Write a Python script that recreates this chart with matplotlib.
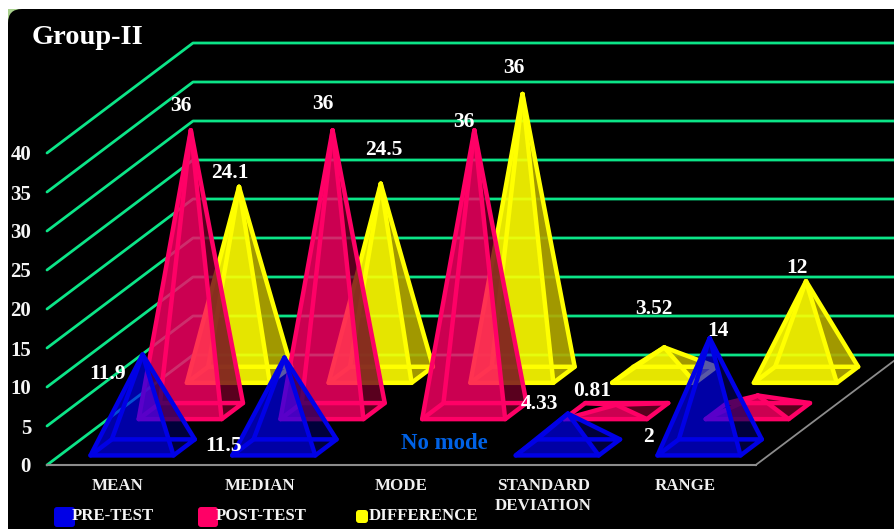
import numpy as np
import matplotlib
matplotlib.use('Agg')
import matplotlib.pyplot as plt
from matplotlib.patches import Polygon, Rectangle, FancyBboxPatch
from matplotlib.transforms import IdentityTransform

plt.rcParams['font.family'] = ['Liberation Serif', 'DejaVu Serif']
plt.rcParams['font.weight'] = 'bold'

# 数据
categories = ['MEAN', 'MEDIAN', 'MODE', 'STANDARD\nDEVIATION', 'RANGE']
series_names = ['PRE-TEST', 'POST-TEST', 'DIFFERENCE']
pre_test = [11.9, 11.5, np.nan, 4.33, 14]
post_test = [36, 36, 36, 0.81, 2]
difference = [24.1, 24.5, 36, 3.52, 12]
value_labels = [['11.9', '11.5', None, '4.33', '14'],
                ['36', '36', '36', '0.81', '2'],
                ['24.1', '24.5', '36', '3.52', '12']]
y_ticks = [0, 5, 10, 15, 20, 25, 30, 35, 40]

# 标签相对塔尖的偏移(像素)
label_offsets = [[(-35, -19), (-61, -88), None, (-28, 10), (8, 7)],
                 [(-10, 24), (-10, 26), (-10, 8), (-24, 14), (-109, -42)],
                 [(-9, 14), (3, 34), (-9, 26), (-10, 38), (-9, 13)]]

W, H = 895, 529
PX_X = 141.75  # 每个类别的宽度
PX_Y = 7.8     # 每个单位的高度
LEFT, BOTTOM = 47, 465

# 斜投影的纵深方向
DEPTH_X = 146 / PX_X
DEPTH_Y = 110 / PX_Y
rows = [0.16, 0.49, 0.82]
half_w = 41.5 / PX_X
half_d = 0.073


def project(x, depth, value):
    return x + depth * DEPTH_X, value + depth * DEPTH_Y


fig = plt.figure(figsize=(W / 100, H / 100), dpi=100, facecolor='white')

# 圆角黑色背景
px = IdentityTransform()
fig.add_artist(Rectangle((8, 0), 14, H - 9, transform=px, facecolor='#a9d18e',
                         edgecolor='none', zorder=-2))
fig.add_artist(FancyBboxPatch((22, -30), W + 40, H - 9 - 14 + 30, transform=px,
                              boxstyle='round,pad=14,rounding_size=14',
                              facecolor='black', edgecolor='none', zorder=-1))

ax = fig.add_axes([0, 0, 1, 1])
ax.patch.set_visible(False)
ax.set_xlim(-LEFT / PX_X, (W - LEFT) / PX_X)
ax.set_ylim(-(H - BOTTOM) / PX_Y, BOTTOM / PX_Y)

# 网格线
for v in y_ticks:
    pts = [project(0, 0, v), project(0, 1, v), project(5, 1, v)]
    ax.plot(*zip(*pts), color='#0ce588', lw=2.0, zorder=1, solid_capstyle='round')

# 地面右侧边线
ax.plot(*zip(project(5, 0, 0), project(5, 1, 0)), color='#8c8c8c', lw=1.3, zorder=1)

# 坐标轴
for name in ['top', 'right']:
    ax.spines[name].set_visible(False)
ax.spines['left'].set_position(('data', 0))
ax.spines['left'].set_visible(False)
ax.spines['bottom'].set_position(('data', 0))
ax.spines['bottom'].set_bounds(0, 5)
ax.spines['bottom'].set_color('#8c8c8c')
ax.spines['bottom'].set_linewidth(1.5)
ax.set_yticks(y_ticks)
ax.set_yticklabels([str(t) for t in y_ticks], fontsize=15, color='#f5f5f5')
ax.set_xticks(np.arange(len(categories)) + 0.5)
ax.set_xticklabels(categories, fontsize=12.2, color='#f0f0f0', linespacing=1.3)
ax.tick_params(axis='y', length=0, pad=11.5)
ax.tick_params(axis='x', length=0, pad=9.5)

# 每个系列: 线条色, 正面填充, 侧面填充, 透明度
styles = [('#0000e6', '#0000ff', '#00005c', 0.65),
          ('#ff0066', '#ff0066', '#700026', 0.8),
          ('#ffff00', '#ffff00', '#b4aa00', 0.9)]
all_series = [pre_test, post_test, difference]


def draw_pyramid(x, depth, value, style, z):
    edge, front, side, alpha = style
    corners = [project(x - half_w, depth - half_d, 0),
               project(x + half_w, depth - half_d, 0),
               project(x + half_w, depth + half_d, 0),
               project(x - half_w, depth + half_d, 0)]
    apex = project(x, depth, value)
    ax.add_patch(Polygon([corners[0], corners[1], apex], facecolor=front, alpha=alpha,
                         edgecolor='none', zorder=z))
    ax.add_patch(Polygon([corners[1], corners[2], apex], facecolor=side, alpha=alpha,
                         edgecolor='none', zorder=z))
    # 底面和四条棱
    ax.add_patch(Polygon(corners, closed=True, fill=False, edgecolor=edge, lw=3.2,
                         joinstyle='round', zorder=z + 0.1))
    for c in corners:
        ax.plot([c[0], apex[0]], [c[1], apex[1]], color=edge, lw=3.2,
                solid_capstyle='round', zorder=z + 0.1)
    return apex


# 从后往前画
for s in [2, 1, 0]:
    for i, v in enumerate(all_series[s]):
        if np.isnan(v):
            continue
        apex = draw_pyramid(i + 0.51, rows[s], v, styles[s], 3 + (2 - s))
        ax.annotate(value_labels[s][i], xy=apex, xytext=label_offsets[s][i],
                    textcoords='offset pixels', ha='center', va='center',
                    fontsize=15.5, color='white', zorder=10)

# MODE 没有前测数据
ax.text(2.8, 2.7, 'No mode', ha='center', va='center', fontsize=16.5,
        color='#0062e6', zorder=10)

fig.text(32 / W, 1 - 44 / H, 'Group-II', fontsize=20.4, color='white', va='baseline')

# 图例
swatches = [(54, 507, 21, 20), (198, 507, 20, 20), (356, 510, 12, 13)]
text_x = [72, 216, 369]
for name, box, tx, style in zip(series_names, swatches, text_x, styles):
    x0, y0, w, h = box
    fig.add_artist(FancyBboxPatch((x0 + 2, H - y0 - h + 2), w - 4, h - 4, transform=px,
                                  boxstyle='round,pad=2,rounding_size=3',
                                  facecolor=style[0], edgecolor='none', zorder=-1))
    fig.text(tx / W, 1 - 516 / H, name, fontsize=12.1, color='#f5f5f5',
             ha='left', va='center')

plt.savefig('out.png', dpi=100, facecolor='white')
